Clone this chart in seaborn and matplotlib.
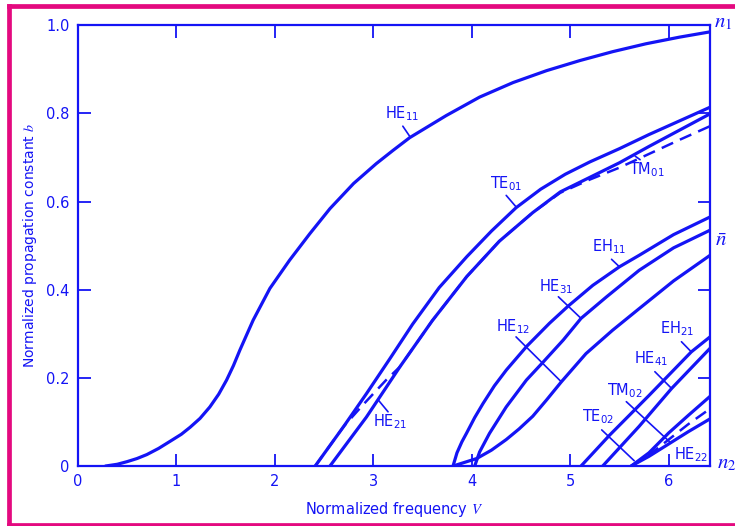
import numpy as np
import pandas as pd
import seaborn as sns
import matplotlib.pyplot as plt
from matplotlib.lines import Line2D

BLUE = "#1414f5"
MAGENTA = "#e4097f"

# Curves (V, b)
he11_v = [0.28, 0.40, 0.50, 0.60, 0.70, 0.82, 0.95, 1.05, 1.14, 1.24, 1.34, 1.43, 1.51, 1.58,
          1.645, 1.78, 1.95, 2.15, 2.355, 2.56, 2.80, 3.03, 3.20, 3.37, 3.74, 4.08, 4.42,
          4.76, 5.10, 5.43, 5.77, 6.11, 6.42]
he11_b = [0.0, 0.004, 0.010, 0.017, 0.026, 0.040, 0.058, 0.072, 0.088, 0.108, 0.134, 0.163,
          0.195, 0.228, 0.263, 0.331, 0.403, 0.467, 0.527, 0.584, 0.641, 0.686, 0.716, 0.745,
          0.795, 0.837, 0.870, 0.897, 0.920, 0.940, 0.958, 0.973, 0.985]

te01_v = [2.41, 2.70, 2.93, 3.17, 3.40, 3.67, 3.95, 4.20, 4.45, 4.70, 4.95, 5.20, 5.50, 5.80, 6.11, 6.42]
te01_b = [0.0, 0.090, 0.164, 0.244, 0.322, 0.405, 0.475, 0.533, 0.586, 0.628, 0.662, 0.690,
          0.720, 0.752, 0.783, 0.814]

he21_v = [2.56, 2.93, 3.27, 3.60, 3.95, 4.28, 4.62, 4.90, 5.20, 5.50, 5.80, 6.11, 6.42]
he21_b = [0.0, 0.111, 0.225, 0.330, 0.430, 0.510, 0.575, 0.622, 0.655, 0.688, 0.725, 0.762, 0.799]

tm01_v = [2.41, 2.70, 2.90, 3.13, 3.27, 3.60, 3.95, 4.28, 4.62, 4.90, 5.20, 5.50, 5.80, 6.11, 6.42]
tm01_b = [0.0, 0.090, 0.140, 0.195, 0.225, 0.330, 0.430, 0.510, 0.575, 0.620, 0.650, 0.677,
          0.708, 0.740, 0.771]

eh11_v = [3.81, 3.85, 3.90, 3.946, 4.03, 4.115, 4.23, 4.352, 4.56, 4.79, 4.98, 5.23, 5.50, 5.70, 6.05, 6.42]
eh11_b = [0.0, 0.030, 0.055, 0.074, 0.110, 0.142, 0.182, 0.218, 0.272, 0.324, 0.363, 0.410,
          0.452, 0.478, 0.525, 0.565]

he31_v = [4.03, 4.08, 4.18, 4.35, 4.555, 4.73, 4.93, 5.11, 5.37, 5.70, 6.05, 6.42]
he31_b = [0.0, 0.032, 0.074, 0.134, 0.195, 0.237, 0.286, 0.335, 0.384, 0.444, 0.495, 0.535]

he12_v = [3.81, 4.05, 4.20, 4.35, 4.48, 4.62, 4.76, 4.91, 5.16, 5.43, 5.70, 6.05, 6.42]
he12_b = [0.0, 0.017, 0.036, 0.060, 0.084, 0.113, 0.150, 0.191, 0.255, 0.308, 0.357, 0.420, 0.478]

eh21_v = [5.11, 5.40, 5.80, 6.23, 6.42]
eh21_b = [0.0, 0.070, 0.160, 0.259, 0.293]

he41_v = [5.33, 5.70, 6.03, 6.42]
he41_b = [0.0, 0.090, 0.176, 0.267]

te02_v = [5.62, 5.80, 6.00, 6.20, 6.42]
te02_b = [0.0, 0.030, 0.075, 0.115, 0.158]
tm02_v = [5.62, 5.80, 6.00, 6.20, 6.42]
tm02_b = [0.0, 0.025, 0.060, 0.095, 0.130]
he22_v = [5.62, 5.80, 6.00, 6.20, 6.42]
he22_b = [0.0, 0.022, 0.050, 0.078, 0.107]

# mode labels: text, text position, leader start, leader end
labels = [
    ("HE$_{11}$", (3.29, 0.80), (3.30, 0.771), (3.37, 0.748)),
    ("TE$_{01}$", (4.35, 0.64), (4.35, 0.614), (4.45, 0.588)),
    ("TM$_{01}$", (5.78, 0.672), (5.71, 0.695), (5.66, 0.703)),
    ("HE$_{21}$", (3.17, 0.100), (3.15, 0.123), (3.05, 0.150)),
    ("EH$_{11}$", (5.40, 0.497), (5.42, 0.469), (5.50, 0.452)),
    ("HE$_{31}$", (4.86, 0.407), (4.88, 0.384), (5.11, 0.335)),
    ("HE$_{12}$", (4.42, 0.316), (4.45, 0.293), (4.91, 0.191)),
    ("EH$_{21}$", (6.09, 0.312), (6.13, 0.282), (6.23, 0.259)),
    ("HE$_{41}$", (5.82, 0.244), (5.86, 0.214), (6.03, 0.176)),
    ("TM$_{02}$", (5.55, 0.172), (5.57, 0.146), (6.01, 0.055)),
    ("TE$_{02}$", (5.28, 0.112), (5.32, 0.082), (5.65, 0.012)),
    ("HE$_{22}$", (6.23, 0.025), None, None),
]

sns.set_style("ticks")
plt.rcParams["font.family"] = ["DejaVu Sans"]
plt.rcParams["mathtext.fontset"] = "dejavusans"

fig = plt.figure(figsize=(7.35, 5.26), dpi=100)
ax = fig.add_axes([0.106, 0.114, 0.860, 0.838])

solid = [(he11_v, he11_b), (te01_v, te01_b), (he21_v, he21_b), (eh11_v, eh11_b),
         (he31_v, he31_b), (he12_v, he12_b), (eh21_v, eh21_b), (he41_v, he41_b),
         (te02_v, te02_b), (he22_v, he22_b)]
for xs, ys in solid:
    sns.lineplot(x=xs, y=ys, ax=ax, color=BLUE, lw=2.3, sort=False, estimator=None)

for xs, ys in [(tm01_v, tm01_b), (tm02_v, tm02_b)]:
    sns.lineplot(x=xs, y=ys, ax=ax, color=BLUE, lw=1.8, sort=False, estimator=None,
                 linestyle=(0, (5, 3)))

for txt, pos, p0, p1 in labels:
    ax.text(pos[0], pos[1], txt, color=BLUE, fontsize=10.5, ha="center", va="center")
    if p0 is not None:
        ax.plot([p0[0], p1[0]], [p0[1], p1[1]], color=BLUE, lw=1.2)

ax.text(6.465, 1.008, "$n_1$", color=BLUE, fontsize=15, ha="left", va="center",
        clip_on=False, math_fontfamily="stix")
ax.text(6.47, 0.512, r"$\bar{n}$", color=BLUE, fontsize=15, ha="left", va="center",
        clip_on=False, math_fontfamily="stix")
ax.text(6.49, 0.006, "$n_2$", color=BLUE, fontsize=15, ha="left", va="center",
        clip_on=False, math_fontfamily="stix")

ax.set_xlim(0, 6.42)
ax.set_ylim(0, 1.0)
ax.set_xticks([0, 1, 2, 3, 4, 5, 6])
ax.set_yticks([0, 0.2, 0.4, 0.6, 0.8, 1.0])
ax.set_yticklabels(["0", "0.2", "0.4", "0.6", "0.8", "1.0"])
ax.tick_params(direction="in", length=9, width=1.3, colors=BLUE, labelsize=10.5,
               top=True, right=True, pad=6)
for sp in ax.spines.values():
    sp.set_color(BLUE)
    sp.set_linewidth(1.6)

ax.set_xlabel("Normalized frequency $V$", color=BLUE, fontsize=10.5, labelpad=8,
              math_fontfamily="stix")
ax.set_ylabel("Normalized propagation constant $b$", color=BLUE, fontsize=10, labelpad=5,
              math_fontfamily="stix")

# magenta frame: left, top and bottom only (right side is cut off in the reference)
x0, y0, y1 = 0.0122, 0.002, 0.9886
for xs, ys in [([x0, x0], [y0, y1]), ([x0, 1.0], [y1, y1]), ([x0, 1.0], [y0, y0])]:
    fig.add_artist(Line2D(xs, ys, transform=fig.transFigure, color=MAGENTA,
                          linewidth=3.4, solid_capstyle="projecting"))

fig.savefig("out.png", dpi=100)
